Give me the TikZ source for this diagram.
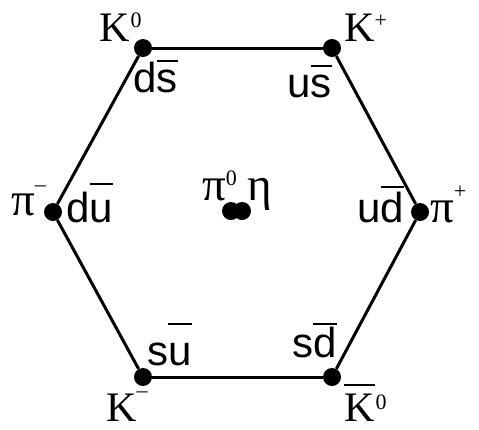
\documentclass[tikz,border=0pt]{standalone}
\usepackage{fontspec}
\setmainfont{Liberation Serif}
\newfontfamily\qfont{Liberation Sans}
\tikzset{
  dot/.style={circle,fill=black,inner sep=0pt,minimum size=18pt},
  edge/.style={line width=3pt},
  hadron/.style={inner sep=0pt,anchor=base west,font=\fontsize{42}{42}\selectfont},
  greek/.style={inner sep=0pt,anchor=base west,font=\fontsize{47}{47}\selectfont},
  quark/.style={inner sep=0pt,anchor=base west,font=\qfont\fontsize{42}{42}\selectfont},
}
\newcommand\qbar[2]{\setbox0\hbox{#2}\rlap{\raisebox{#1pt}{\rule{\wd0}{2.2pt}}}\box0}
\newcommand\hsup[2]{\raisebox{#1pt}{\fontsize{22}{22}\selectfont #2}}
\begin{document}
\begin{tikzpicture}[x=1pt,y=-1pt]
\useasboundingbox (0,0) rectangle (479,429);
% vertices
\node[dot] (tl) at (143,48) {};
\node[dot] (tr) at (332,48) {};
\node[dot] (r)  at (420,212) {};
\node[dot] (br) at (332,377) {};
\node[dot] (bl) at (143,377) {};
\node[dot] (l)  at (53,212) {};
\node[dot] (c1) at (231,211) {};
\node[dot] (c2) at (242,211) {};
% edges
\draw[edge] (tl) -- (tr);
\draw[edge] (tr) -- (r);
\draw[edge] (r) -- (br);
\draw[edge] (br) -- (bl);
\draw[edge] (bl) -- (l);
\draw[edge] (l) -- (tl);
% hadron labels
\node[hadron] (K0)  at (99,41)  {K\kern1pt\hsup{14}{0}};
\node[hadron] (Kp)  at (344,41)  {K\hsup{14}{+}};
\node[greek] (pim) at (11,215)  {π\hsup{24}{–}};
\node[greek] (pip) at (430,222) {π\hsup{24}{+}};
\node[greek] (pi0) at (202,200) {π\hsup{15}{0}};
\node[greek] (eta) at (247,200) {η};
\node[hadron] (Km)  at (106,421) {K\hsup{24}{–}};
\node[hadron,text depth=0pt] (K0b) at (344,421) {\qbar{35}{K}\kern1pt\hsup{12}{0}};
% quark labels
\node[quark] (ds) at (133,92)  {d\qbar{30}{s}};
\node[quark] (us) at (287,97)  {u\qbar{30}{s}};
\node[quark] (du) at (66,222)  {d\qbar{37}{u}};
\node[quark] (ud) at (357,222) {u\qbar{34}{d}};
\node[quark] (su) at (147,365) {s\qbar{40}{u}};
\node[quark] (sd) at (292,357) {s\qbar{32}{d}};
\end{tikzpicture}
\end{document}
